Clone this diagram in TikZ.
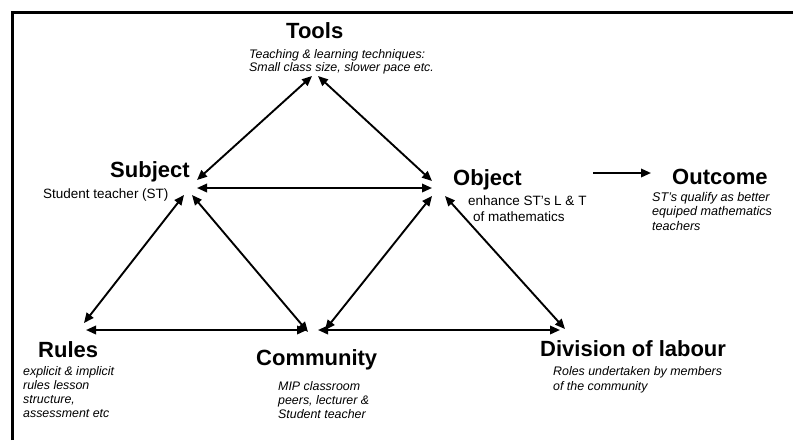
\documentclass[tikz,border=0pt]{standalone}
\usepackage{fontspec}
\setmainfont{Liberation Sans}
\usetikzlibrary{arrows.meta}
\begin{document}
\begin{tikzpicture}[x=1pt,y=-1pt,
  title/.style={anchor=base west,inner sep=0pt,font=\fontsize{22}{26}\selectfont\bfseries},
  note/.style={anchor=base west,inner sep=0pt,align=left,font=\fontsize{12.4}{14}\selectfont\itshape},
  plain/.style={anchor=base west,inner sep=0pt,align=left,font=\fontsize{13.5}{16}\selectfont},
  link/.style={line width=1.9pt,{Triangle[length=10pt,width=8.5pt]}-{Triangle[length=10pt,width=8.5pt]}},
  oneway/.style={line width=1.9pt,-{Triangle[length=10pt,width=8.5pt]}}]
\useasboundingbox (0,0) rectangle (793,440);
% frame (top and left edges)
\draw[line width=2.6pt] (12.3,440) -- (12.3,12.3) -- (793,12.3);

% headings
\node[title] (tools) at (286,38) {Tools};
\node[title] (subject) at (110,177) {Subject};
\node[title] (object) at (453,185) {Object};
\node[title] (outcome) at (672,184) {Outcome};
\node[title] (rules) at (38,357) {Rules};
\node[title] (community) at (256,365) {Community};
\node[title] (division) at (540,356) {Division of labour};

% descriptions (placed by the baseline of their last line)
\node[note,font=\fontsize{12.4}{13.5}\selectfont\itshape] (toolsd) at (249,71.5) {Teaching \& learning techniques:\\Small class size, slower pace etc.};
\node[plain] (subjectd) at (43,198) {Student teacher (ST)};
\node[plain] (objectd1) at (468,205) {enhance ST's L \& T};
\node[plain] (objectd2) at (473,221) {of mathematics};
\node[note,font=\fontsize{12.6}{14.5}\selectfont\itshape] (outcomed) at (652,230) {ST's qualify as better\\equiped mathematics\\teachers};
\node[note] (rulesd) at (23,417) {explicit \& implicit\\rules lesson\\structure,\\assessment etc};
\node[note] (communityd) at (278,418) {MIP classroom\\peers, lecturer \&\\Student teacher};
\node[note,font=\fontsize{12.4}{15}\selectfont\itshape] (divisiond) at (553,390) {Roles undertaken by members\\of the community};

% connector end points around each corner
\coordinate (tL) at (312,76);
\coordinate (tR) at (318,76);
\coordinate (sT) at (197,180);
\coordinate (sO) at (197,188);
\coordinate (sR) at (184,195);
\coordinate (sC) at (192,195);
\coordinate (oT) at (432,181);
\coordinate (oS) at (432,188);
\coordinate (oC) at (432,196);
\coordinate (oD) at (445,196);
\coordinate (rS) at (84,323);
\coordinate (rC) at (86,330);
\coordinate (cS) at (308,332);
\coordinate (cR) at (307,330);
\coordinate (cO) at (325,330);
\coordinate (cD) at (318,330);
\coordinate (dO) at (565,329);
\coordinate (dC) at (560,330);
\coordinate (oOut) at (593,173);
\coordinate (outIn) at (651,173);

% connectors
\draw[link] (sT) -- (tL);
\draw[link] (oT) -- (tR);
\draw[link] (sO) -- (oS);
\draw[link] (sR) -- (rS);
\draw[link] (sC) -- (cS);
\draw[link] (oC) -- (cO);
\draw[link] (oD) -- (dO);
\draw[link] (rC) -- (cR);
\draw[link] (cD) -- (dC);
\draw[oneway] (oOut) -- (outIn);
\end{tikzpicture}
\end{document}
